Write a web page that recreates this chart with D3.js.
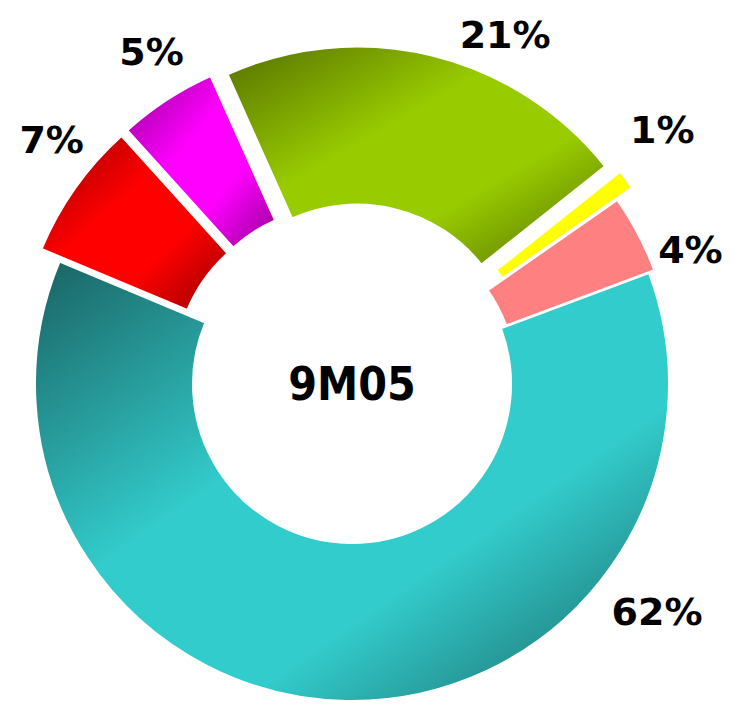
<!DOCTYPE html>
<html>
<head>
<meta charset="utf-8">
<script src="https://cdn.jsdelivr.net/npm/d3@7"></script>
<style>
  html, body { margin: 0; padding: 0; background: #fff; }
  svg { display: block; }
  text { font-family: "DejaVu Sans", sans-serif; font-weight: bold; fill: #000; }
</style>
</head>
<body>
<div id="chart"></div>
<script>
// data, in drawing order (clockwise)
var categories = ['Teal', 'Red', 'Magenta', 'Green', 'Yellow', 'Pink'];
var values = [62, 7, 5, 21, 1, 4];
var valueLabels = ['62%', '7%', '5%', '21%', '1%', '4%'];
var centerLabel = '9M05';

(function () {
  var width = 733;
  var height = 704;
  var cx = 352;
  var cy = 384;
  var outerRadius = 317;
  var innerRadius = 159;
  var startDeg = 69.5;
  var rad = Math.PI / 180;

  // light / dark shade per slice, null dark = flat fill
  var colors = {
    Teal:    { light: '#33cccc', dark: '#1a6262' },
    Red:     { light: '#ff0000', dark: '#960000' },
    Magenta: { light: '#ff00ff', dark: '#960096' },
    Green:   { light: '#99cc00', dark: '#557000' },
    Yellow:  { light: '#ffff00', dark: null },
    Pink:    { light: '#ff8080', dark: null }
  };
  // how far each slice is pulled out
  var explode = { Teal: 0, Red: 22, Magenta: 22, Green: 21, Yellow: 25, Pink: 6 };
  // label placement: angle shift from the slice middle (deg) and radius
  var labelPos = {
    Teal:    { shift: -54.3, r: 381 },
    Red:     { shift: 3.8, r: 387 },
    Magenta: { shift: 2, r: 388 },
    Green:   { shift: 10, r: 381 },
    Yellow:  { shift: -2.6, r: 401 },
    Pink:    { shift: 6.1, r: 364 }
  };

  var rows = categories.map(function (c, i) {
    return { name: c, value: values[i], label: valueLabels[i] };
  });

  var pie = d3.pie()
      .sort(null)
      .value(function (d) { return d.value; })
      .startAngle(startDeg * rad)
      .endAngle(startDeg * rad + 2 * Math.PI);

  var arc = d3.arc()
      .innerRadius(innerRadius)
      .outerRadius(outerRadius);

  var svg = d3.select('#chart').append('svg')
      .attr('width', width)
      .attr('height', height);

  var defs = svg.append('defs');
  rows.forEach(function (d, i) {
    var c = colors[d.name];
    if (!c.dark) return;
    var g = defs.append('linearGradient')
        .attr('id', 'grad' + i)
        .attr('x1', 0).attr('y1', 0)
        .attr('x2', 1).attr('y2', 1);
    g.append('stop').attr('offset', '0%').attr('stop-color', c.dark);
    g.append('stop').attr('offset', '40%').attr('stop-color', c.light);
    g.append('stop').attr('offset', '66%').attr('stop-color', c.light);
    g.append('stop').attr('offset', '100%').attr('stop-color', c.dark);
  });

  var root = svg.append('g')
      .attr('transform', 'translate(' + cx + ',' + cy + ')');

  var arcs = pie(rows);

  root.selectAll('path.slice')
      .data(arcs)
    .enter().append('path')
      .attr('class', 'slice')
      .attr('transform', function (d) {
        var mid = (d.startAngle + d.endAngle) / 2;
        var e = explode[d.data.name];
        return 'translate(' + (Math.sin(mid) * e) + ',' + (-Math.cos(mid) * e) + ')';
      })
      .attr('d', arc)
      .attr('fill', function (d, i) {
        var c = colors[d.data.name];
        return c.dark ? 'url(#grad' + i + ')' : c.light;
      })
      .attr('stroke', '#fff')
      .attr('stroke-width', 2)
      .attr('stroke-linejoin', 'miter');

  root.selectAll('text.label')
      .data(arcs)
    .enter().append('text')
      .attr('class', 'label')
      .attr('x', function (d) {
        var p = labelPos[d.data.name];
        var a = (d.startAngle + d.endAngle) / 2 + p.shift * rad;
        return Math.sin(a) * p.r;
      })
      .attr('y', function (d) {
        var p = labelPos[d.data.name];
        var a = (d.startAngle + d.endAngle) / 2 + p.shift * rad;
        return -Math.cos(a) * p.r;
      })
      .attr('text-anchor', 'middle')
      .attr('dominant-baseline', 'central')
      .style('font-size', '38px')
      .text(function (d) { return d.data.label; });

  root.append('text')
      .attr('class', 'center')
      .attr('x', 0)
      .attr('y', 0)
      .attr('text-anchor', 'middle')
      .attr('dominant-baseline', 'central')
      .style('font-family', '"DejaVu Sans Condensed", "DejaVu Sans", sans-serif')
      .style('font-stretch', 'condensed')
      .style('font-size', '46px')
      .text(centerLabel);
})();
</script>
</body>
</html>
